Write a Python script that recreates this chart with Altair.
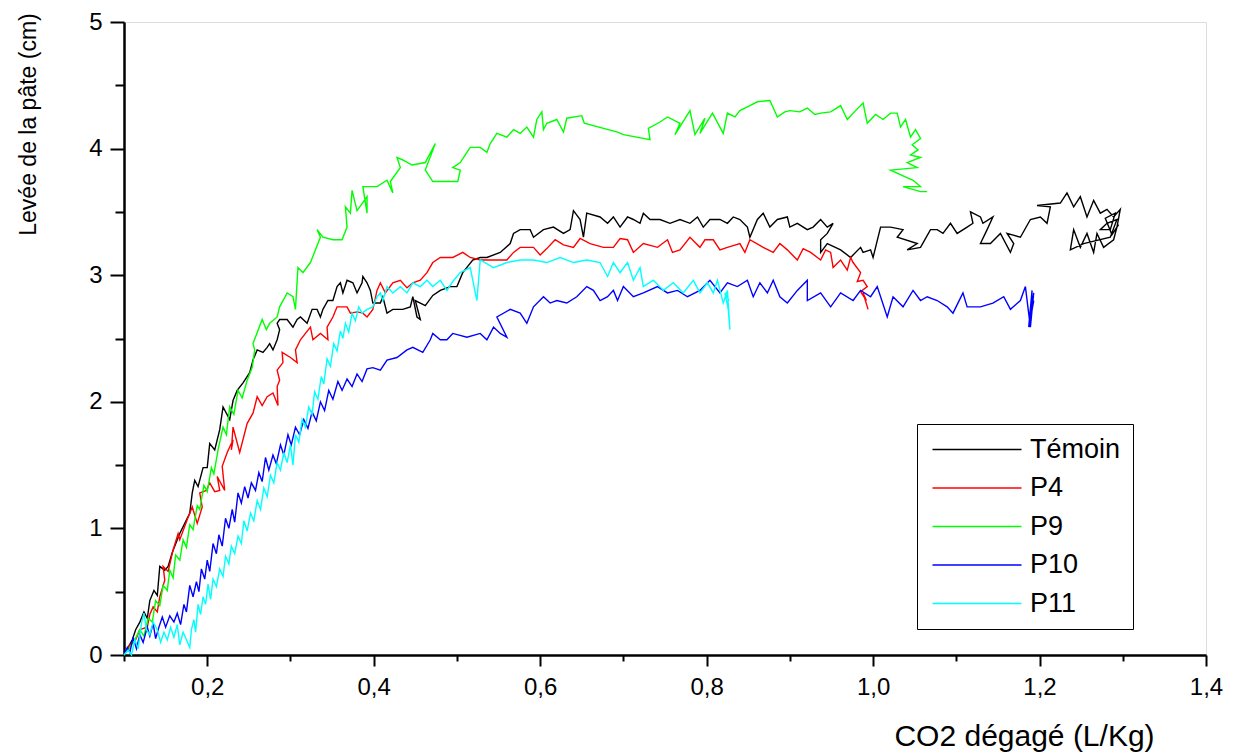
import altair as alt
import pandas as pd

series_names = ["Témoin", "P4", "P9", "P10", "P11"]
series_colors = ["#000000", "#ff0000", "#00ff00", "#0000ff", "#00ffff"]

temoin_x = [0.100, 0.105, 0.110, 0.114, 0.119, 0.124, 0.128, 0.131, 0.136, 0.140, 0.143, 0.149, 0.153, 0.158, 0.164, 0.167, 0.173, 0.179, 0.182, 0.185, 0.189, 0.195, 0.200, 0.203, 0.209, 0.215, 0.219, 0.227, 0.231, 0.236, 0.243, 0.251, 0.255, 0.260, 0.267, 0.272, 0.275, 0.279, 0.284, 0.287, 0.284, 0.287, 0.296, 0.303, 0.308, 0.312, 0.320, 0.326, 0.332, 0.336, 0.339, 0.345, 0.351, 0.356, 0.360, 0.363, 0.368, 0.375, 0.380, 0.386, 0.387, 0.392, 0.396, 0.399, 0.408, 0.411, 0.416, 0.423, 0.435, 0.444, 0.447, 0.452, 0.456, 0.450, 0.462, 0.471, 0.480, 0.492, 0.500, 0.507, 0.519, 0.528, 0.536, 0.552, 0.564, 0.568, 0.576, 0.588, 0.592, 0.604, 0.616, 0.628, 0.636, 0.640, 0.648, 0.652, 0.656, 0.672, 0.681, 0.688, 0.696, 0.705, 0.712, 0.720, 0.724, 0.732, 0.744, 0.756, 0.768, 0.780, 0.789, 0.796, 0.804, 0.816, 0.825, 0.832, 0.840, 0.849, 0.852, 0.861, 0.868, 0.876, 0.885, 0.897, 0.900, 0.909, 0.921, 0.928, 0.937, 0.945, 0.952, 0.945, 0.937, 0.937, 0.945, 0.961, 0.973, 0.985, 0.988, 0.997, 1.000, 1.009, 1.021, 1.036, 1.029, 1.053, 1.041, 1.057, 1.069, 1.077, 1.084, 1.093, 1.101, 1.113, 1.120, 1.117, 1.129, 1.132, 1.144, 1.137, 1.129, 1.141, 1.153, 1.165, 1.169, 1.161, 1.177, 1.189, 1.201, 1.209, 1.213, 1.197, 1.225, 1.233, 1.241, 1.249, 1.257, 1.265, 1.273, 1.281, 1.289, 1.297, 1.293, 1.289, 1.277, 1.269, 1.265, 1.257, 1.249, 1.241, 1.237, 1.253, 1.285, 1.293, 1.281, 1.273, 1.285, 1.291, 1.279, 1.287, 1.295]
temoin_y = [0.00, 0.06, 0.12, 0.20, 0.26, 0.34, 0.29, 0.43, 0.51, 0.47, 0.70, 0.67, 0.70, 0.81, 0.91, 0.96, 1.04, 1.12, 1.28, 1.38, 1.33, 1.48, 1.48, 1.67, 1.62, 1.78, 1.96, 1.86, 2.01, 2.09, 2.15, 2.23, 2.33, 2.41, 2.39, 2.43, 2.46, 2.41, 2.49, 2.57, 2.62, 2.65, 2.65, 2.59, 2.65, 2.67, 2.62, 2.73, 2.73, 2.67, 2.73, 2.80, 2.80, 2.91, 2.94, 2.86, 2.96, 2.94, 2.86, 2.94, 2.99, 2.94, 2.88, 2.78, 2.78, 2.83, 2.70, 2.73, 2.73, 2.75, 2.83, 2.67, 2.65, 2.80, 2.76, 2.84, 2.88, 2.91, 2.91, 3.02, 3.12, 3.14, 3.14, 3.18, 3.25, 3.33, 3.36, 3.36, 3.30, 3.36, 3.38, 3.33, 3.36, 3.51, 3.44, 3.30, 3.49, 3.46, 3.41, 3.46, 3.38, 3.46, 3.44, 3.41, 3.49, 3.44, 3.44, 3.41, 3.44, 3.41, 3.46, 3.38, 3.44, 3.44, 3.41, 3.46, 3.44, 3.38, 3.30, 3.44, 3.49, 3.38, 3.44, 3.46, 3.38, 3.41, 3.36, 3.38, 3.44, 3.38, 3.41, 3.33, 3.28, 3.18, 3.25, 3.20, 3.14, 3.22, 3.18, 3.20, 3.14, 3.38, 3.38, 3.36, 3.30, 3.25, 3.20, 3.22, 3.36, 3.36, 3.33, 3.41, 3.33, 3.38, 3.41, 3.50, 3.46, 3.41, 3.46, 3.36, 3.25, 3.25, 3.33, 3.18, 3.25, 3.33, 3.30, 3.44, 3.46, 3.41, 3.54, 3.55, 3.57, 3.65, 3.54, 3.62, 3.46, 3.59, 3.49, 3.52, 3.46, 3.52, 3.38, 3.28, 3.22, 3.33, 3.18, 3.33, 3.22, 3.36, 3.20, 3.25, 3.30, 3.44, 3.41, 3.36, 3.36, 3.49, 3.45, 3.32, 3.40]

p4_x = [0.100, 0.107, 0.114, 0.119, 0.128, 0.131, 0.135, 0.140, 0.143, 0.149, 0.147, 0.153, 0.159, 0.165, 0.167, 0.176, 0.182, 0.188, 0.194, 0.191, 0.199, 0.203, 0.209, 0.215, 0.212, 0.221, 0.218, 0.224, 0.231, 0.229, 0.231, 0.239, 0.248, 0.255, 0.260, 0.266, 0.272, 0.279, 0.285, 0.284, 0.287, 0.284, 0.291, 0.290, 0.300, 0.308, 0.306, 0.312, 0.318, 0.324, 0.327, 0.336, 0.345, 0.344, 0.351, 0.356, 0.368, 0.372, 0.380, 0.387, 0.392, 0.399, 0.404, 0.408, 0.414, 0.423, 0.432, 0.440, 0.447, 0.456, 0.464, 0.471, 0.480, 0.495, 0.507, 0.516, 0.528, 0.544, 0.560, 0.568, 0.576, 0.592, 0.600, 0.608, 0.618, 0.628, 0.640, 0.648, 0.660, 0.676, 0.688, 0.696, 0.705, 0.712, 0.724, 0.741, 0.753, 0.759, 0.768, 0.780, 0.792, 0.798, 0.808, 0.816, 0.825, 0.840, 0.846, 0.852, 0.868, 0.880, 0.888, 0.897, 0.909, 0.916, 0.925, 0.937, 0.943, 0.949, 0.952, 0.961, 0.969, 0.973, 0.976, 0.985, 0.981, 0.988, 0.993, 0.985, 0.992, 0.988, 0.994]
p4_y = [0.00, 0.08, 0.12, 0.20, 0.22, 0.32, 0.38, 0.34, 0.46, 0.59, 0.70, 0.66, 0.83, 0.96, 0.91, 1.07, 1.17, 1.04, 1.17, 1.28, 1.30, 1.36, 1.29, 1.30, 1.41, 1.30, 1.49, 1.60, 1.70, 1.62, 1.80, 1.60, 1.83, 1.91, 2.04, 1.97, 2.04, 2.07, 1.97, 2.12, 2.17, 2.25, 2.31, 2.39, 2.35, 2.31, 2.41, 2.49, 2.54, 2.59, 2.49, 2.54, 2.49, 2.59, 2.67, 2.75, 2.75, 2.70, 2.71, 2.70, 2.67, 2.73, 2.88, 2.94, 2.86, 2.94, 2.96, 2.90, 2.94, 2.96, 3.02, 3.10, 3.14, 3.14, 3.18, 3.14, 3.12, 3.12, 3.12, 3.18, 3.22, 3.22, 3.16, 3.21, 3.28, 3.24, 3.22, 3.29, 3.25, 3.22, 3.22, 3.29, 3.28, 3.18, 3.25, 3.22, 3.28, 3.18, 3.20, 3.30, 3.22, 3.28, 3.28, 3.20, 3.22, 3.25, 3.18, 3.28, 3.22, 3.18, 3.25, 3.20, 3.12, 3.21, 3.18, 3.12, 3.20, 3.18, 3.06, 3.12, 3.04, 3.14, 3.10, 3.02, 2.95, 2.96, 2.91, 2.87, 2.80, 2.86, 2.73]

p9_x = [0.100, 0.107, 0.113, 0.119, 0.124, 0.129, 0.134, 0.138, 0.143, 0.147, 0.152, 0.155, 0.159, 0.162, 0.167, 0.171, 0.175, 0.179, 0.183, 0.188, 0.191, 0.196, 0.200, 0.205, 0.208, 0.213, 0.219, 0.223, 0.227, 0.232, 0.237, 0.242, 0.248, 0.254, 0.257, 0.255, 0.266, 0.271, 0.275, 0.284, 0.287, 0.296, 0.303, 0.306, 0.309, 0.315, 0.324, 0.336, 0.332, 0.339, 0.351, 0.362, 0.368, 0.366, 0.372, 0.374, 0.380, 0.392, 0.392, 0.387, 0.404, 0.416, 0.423, 0.420, 0.432, 0.428, 0.435, 0.446, 0.462, 0.474, 0.462, 0.471, 0.501, 0.504, 0.495, 0.504, 0.512, 0.516, 0.528, 0.536, 0.540, 0.548, 0.560, 0.568, 0.576, 0.584, 0.592, 0.596, 0.602, 0.604, 0.608, 0.620, 0.628, 0.632, 0.650, 0.653, 0.693, 0.700, 0.732, 0.730, 0.744, 0.753, 0.768, 0.762, 0.780, 0.786, 0.798, 0.792, 0.807, 0.820, 0.825, 0.834, 0.840, 0.852, 0.861, 0.876, 0.885, 0.894, 0.900, 0.912, 0.921, 0.930, 0.937, 0.949, 0.961, 0.969, 0.979, 0.988, 0.993, 1.003, 1.012, 1.021, 1.029, 1.033, 1.039, 1.045, 1.051, 1.057, 1.047, 1.054, 1.045, 1.057, 1.041, 1.053, 1.021, 1.048, 1.057, 1.036, 1.057, 1.065]
p9_y = [0.00, 0.06, 0.12, 0.20, 0.15, 0.29, 0.26, 0.43, 0.39, 0.55, 0.51, 0.67, 0.61, 0.79, 0.75, 0.91, 0.85, 1.03, 0.99, 1.18, 1.15, 1.34, 1.29, 1.48, 1.43, 1.62, 1.80, 1.74, 1.96, 1.90, 2.09, 2.03, 2.17, 2.27, 2.41, 2.46, 2.65, 2.57, 2.62, 2.67, 2.75, 2.86, 2.83, 2.73, 3.06, 3.02, 3.10, 3.30, 3.36, 3.30, 3.28, 3.28, 3.38, 3.54, 3.49, 3.67, 3.51, 3.62, 3.49, 3.70, 3.70, 3.75, 3.65, 3.74, 3.85, 3.93, 3.91, 3.87, 3.89, 4.04, 3.83, 3.74, 3.74, 3.83, 3.85, 3.89, 3.97, 4.01, 4.01, 3.97, 4.04, 4.12, 4.09, 4.15, 4.12, 4.17, 4.09, 4.23, 4.29, 4.15, 4.20, 4.23, 4.13, 4.24, 4.26, 4.20, 4.13, 4.11, 4.07, 4.16, 4.21, 4.25, 4.20, 4.11, 4.30, 4.11, 4.24, 4.12, 4.28, 4.12, 4.28, 4.25, 4.30, 4.34, 4.37, 4.38, 4.25, 4.29, 4.30, 4.29, 4.32, 4.27, 4.28, 4.29, 4.34, 4.23, 4.30, 4.36, 4.20, 4.27, 4.23, 4.28, 4.28, 4.17, 4.23, 4.09, 4.15, 4.08, 4.03, 3.99, 3.95, 3.93, 3.89, 3.85, 3.83, 3.75, 3.70, 3.70, 3.66, 3.66]

p10_x = [0.100, 0.104, 0.107, 0.111, 0.115, 0.119, 0.123, 0.128, 0.131, 0.135, 0.138, 0.142, 0.146, 0.150, 0.155, 0.160, 0.164, 0.168, 0.172, 0.175, 0.179, 0.183, 0.187, 0.190, 0.193, 0.197, 0.200, 0.203, 0.207, 0.211, 0.214, 0.218, 0.222, 0.226, 0.230, 0.233, 0.237, 0.241, 0.245, 0.249, 0.253, 0.258, 0.262, 0.266, 0.270, 0.274, 0.279, 0.283, 0.288, 0.292, 0.297, 0.301, 0.306, 0.311, 0.316, 0.321, 0.326, 0.331, 0.336, 0.341, 0.346, 0.351, 0.357, 0.362, 0.368, 0.374, 0.380, 0.386, 0.392, 0.399, 0.408, 0.416, 0.428, 0.440, 0.447, 0.459, 0.468, 0.471, 0.480, 0.488, 0.495, 0.512, 0.528, 0.536, 0.544, 0.552, 0.560, 0.548, 0.564, 0.576, 0.584, 0.592, 0.604, 0.612, 0.620, 0.632, 0.644, 0.656, 0.664, 0.672, 0.681, 0.688, 0.693, 0.700, 0.712, 0.724, 0.741, 0.753, 0.765, 0.777, 0.792, 0.804, 0.816, 0.825, 0.837, 0.849, 0.856, 0.864, 0.873, 0.880, 0.888, 0.897, 0.909, 0.921, 0.921, 0.937, 0.949, 0.961, 0.976, 0.985, 0.997, 1.005, 1.017, 1.024, 1.036, 1.048, 1.057, 1.065, 1.077, 1.089, 1.096, 1.108, 1.113, 1.129, 1.144, 1.157, 1.165, 1.177, 1.183, 1.189, 1.193, 1.189, 1.193, 1.187, 1.191, 1.190]
p10_y = [0.00, 0.06, 0.02, 0.14, 0.05, 0.16, 0.10, 0.22, 0.15, 0.25, 0.13, 0.22, 0.30, 0.22, 0.31, 0.26, 0.33, 0.24, 0.40, 0.34, 0.55, 0.46, 0.58, 0.50, 0.68, 0.60, 0.75, 0.66, 0.88, 0.80, 0.95, 0.86, 1.08, 1.00, 1.15, 1.05, 1.28, 1.20, 1.33, 1.24, 1.36, 1.30, 1.44, 1.37, 1.56, 1.46, 1.58, 1.51, 1.66, 1.58, 1.74, 1.66, 1.80, 1.74, 1.86, 1.79, 1.92, 1.85, 2.00, 1.93, 2.09, 2.02, 2.16, 2.09, 2.18, 2.12, 2.22, 2.16, 2.26, 2.27, 2.25, 2.33, 2.35, 2.41, 2.43, 2.39, 2.49, 2.54, 2.49, 2.49, 2.54, 2.51, 2.54, 2.49, 2.59, 2.54, 2.51, 2.67, 2.73, 2.70, 2.62, 2.75, 2.83, 2.78, 2.80, 2.78, 2.83, 2.91, 2.88, 2.80, 2.83, 2.88, 2.80, 2.91, 2.83, 2.86, 2.91, 2.86, 2.88, 2.83, 2.88, 2.96, 2.86, 2.94, 2.91, 2.96, 2.83, 2.94, 2.86, 2.96, 2.83, 2.78, 2.88, 2.96, 2.80, 2.86, 2.75, 2.86, 2.80, 2.88, 2.83, 2.91, 2.67, 2.83, 2.75, 2.88, 2.80, 2.83, 2.80, 2.75, 2.70, 2.86, 2.75, 2.75, 2.78, 2.83, 2.73, 2.80, 2.91, 2.59, 2.86, 2.65, 2.80, 2.59, 2.88, 2.69]

p11_x = [0.100, 0.105, 0.109, 0.113, 0.117, 0.121, 0.124, 0.127, 0.131, 0.135, 0.140, 0.144, 0.148, 0.152, 0.156, 0.160, 0.164, 0.167, 0.171, 0.175, 0.179, 0.181, 0.184, 0.186, 0.189, 0.192, 0.195, 0.198, 0.201, 0.204, 0.207, 0.211, 0.215, 0.219, 0.222, 0.226, 0.229, 0.233, 0.237, 0.241, 0.244, 0.248, 0.252, 0.256, 0.260, 0.264, 0.268, 0.272, 0.276, 0.280, 0.284, 0.288, 0.292, 0.296, 0.300, 0.303, 0.306, 0.310, 0.314, 0.318, 0.322, 0.326, 0.329, 0.333, 0.337, 0.340, 0.344, 0.348, 0.352, 0.356, 0.360, 0.363, 0.366, 0.370, 0.374, 0.378, 0.382, 0.386, 0.392, 0.399, 0.404, 0.408, 0.411, 0.416, 0.423, 0.432, 0.440, 0.447, 0.456, 0.464, 0.471, 0.480, 0.488, 0.495, 0.504, 0.516, 0.524, 0.528, 0.544, 0.560, 0.576, 0.592, 0.608, 0.624, 0.640, 0.656, 0.672, 0.681, 0.688, 0.696, 0.705, 0.712, 0.720, 0.724, 0.736, 0.748, 0.760, 0.772, 0.784, 0.792, 0.801, 0.808, 0.813, 0.820, 0.825, 0.828, 0.826, 0.822, 0.827]
p11_y = [0.00, 0.04, 0.00, 0.12, 0.05, 0.25, 0.33, 0.20, 0.16, 0.26, 0.20, 0.10, 0.18, 0.12, 0.22, 0.14, 0.24, 0.08, 0.18, 0.12, 0.06, 0.20, 0.28, 0.18, 0.40, 0.32, 0.46, 0.40, 0.56, 0.44, 0.60, 0.54, 0.68, 0.62, 0.78, 0.72, 0.86, 0.80, 0.94, 0.88, 1.06, 0.98, 1.12, 1.06, 1.22, 1.15, 1.32, 1.25, 1.42, 1.36, 1.52, 1.46, 1.60, 1.52, 1.66, 1.50, 1.74, 1.68, 1.86, 1.80, 1.96, 1.90, 2.08, 2.02, 2.20, 2.14, 2.34, 2.28, 2.46, 2.40, 2.56, 2.50, 2.62, 2.55, 2.70, 2.64, 2.75, 2.70, 2.73, 2.75, 2.83, 2.86, 2.80, 2.91, 2.86, 2.91, 2.86, 2.94, 2.91, 2.96, 2.91, 2.96, 2.88, 2.95, 3.02, 3.06, 2.80, 3.12, 3.06, 3.10, 3.12, 3.12, 3.10, 3.14, 3.10, 3.12, 3.10, 2.99, 3.10, 3.02, 3.10, 2.96, 3.06, 2.91, 2.96, 2.88, 2.94, 2.86, 2.96, 2.86, 2.94, 2.86, 2.96, 2.78, 2.88, 2.57, 2.73, 2.86, 2.80]

x_tick_values = [0.1, 0.2, 0.3, 0.4, 0.5, 0.6, 0.7, 0.8, 0.9, 1.0, 1.1, 1.2, 1.3, 1.4]
y_tick_values = [0, 0.5, 1, 1.5, 2, 2.5, 3, 3.5, 4, 4.5, 5]

xs_all = [temoin_x, p4_x, p9_x, p10_x, p11_x]
ys_all = [temoin_y, p4_y, p9_y, p10_y, p11_y]
rows = []
for name, xs, ys in zip(series_names, xs_all, ys_all):
    for i, (xv, yv) in enumerate(zip(xs, ys)):
        rows.append({"serie": name, "co2": xv, "levee": yv, "i": i})
df = pd.DataFrame(rows)

FONT = "Liberation Sans"

x_axis = alt.Axis(
    values=x_tick_values,
    labelExpr="round(datum.value*10) % 2 === 0 ? replace(format(datum.value, '.1f'), '.', ',') : ''",
    tickSize={"condition": {"test": "round(datum.value*10) % 2 === 0", "value": 11}, "value": 6},
    tickWidth=2, tickColor="black", domainWidth=2.5, domainColor="black",
    labelFont=FONT, labelFontSize=24, labelColor="black", labelPadding=9,
    labelFlush=False, labelOverlap=False, grid=False,
    title="CO2 dégagé (L/Kg)", titleFont=FONT, titleFontSize=30, titleFontWeight="normal",
    titleColor="black", titleX=900, titleY=81, titleAlign="center", titleBaseline="middle",
)
y_axis = alt.Axis(
    values=y_tick_values,
    labelExpr="datum.value % 1 === 0 ? format(datum.value, 'd') : ''",
    tickSize={"condition": {"test": "datum.value % 1 === 0", "value": 14}, "value": 9},
    tickWidth=2, tickColor="black", domainWidth=2.5, domainColor="black",
    labelFont=FONT, labelFontSize=24, labelColor="black", labelPadding=8,
    labelFlush=False, labelOverlap=False, grid=False,
    title="Levée de la pâte (cm)", titleFont=FONT, titleFontSize=23, titleFontWeight="normal",
    titleColor="black", titleX=-96, titleY=102, titleAngle=270, titleAlign="center", titleBaseline="middle",
)

legend = alt.Legend(
    title=None, orient="none", legendX=793, legendY=402,
    symbolType="M-2,0H15.8", symbolSize=100, symbolStrokeWidth=1.5,
    labelFont=FONT, labelFontSize=27, labelColor="black", labelOffset=74,
    padding=12, rowPadding=10.5, strokeColor="black", fillColor="white",
)

chart = alt.Chart(df).mark_line(strokeWidth=1.4).encode(
    x=alt.X("co2:Q", scale=alt.Scale(domain=[0.1, 1.4], nice=False, zero=False), axis=x_axis),
    y=alt.Y("levee:Q", scale=alt.Scale(domain=[0, 5], nice=False, zero=False), axis=y_axis),
    color=alt.Color("serie:N", scale=alt.Scale(domain=series_names, range=series_colors), legend=legend),
    order=alt.Order("i:Q"),
).properties(
    width=1082, height=633,
    autosize=alt.AutoSizeParams(type="none"),
    padding={"left": 116, "top": 14, "right": 27, "bottom": 98},
).configure_view(stroke="transparent").configure_legend(strokeWidth=2).configure(background="white")

chart.save("out.html", embed_options={"renderer": "svg", "actions": False})
